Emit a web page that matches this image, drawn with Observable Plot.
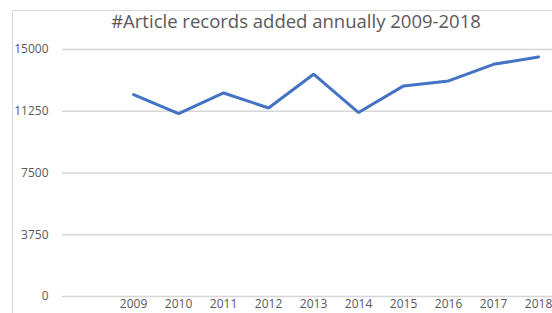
<!DOCTYPE html>
<html>
<head>
<meta charset="utf-8">
<script src="https://cdn.jsdelivr.net/npm/d3@7"></script>
<script src="https://cdn.jsdelivr.net/npm/@observablehq/plot@0.6"></script>
<style>
  html, body { margin: 0; padding: 0; background: #fff; }
  #wrap { position: relative; width: 552px; height: 313px; overflow: hidden; font-family: "Open Sans", sans-serif; }
  #frame { position: absolute; left: 12px; top: 10px; right: -2px; bottom: -2px; border-left: 1px solid #d9d9d9; border-top: 1px solid #d9d9d9; }
  #title { position: absolute; left: 0; width: 592px; top: 8px; text-align: center; font-size: 18.5px; color: #595959; white-space: nowrap; }
  #chart { position: absolute; left: 0; top: 0; }
</style>
</head>
<body>
<div id="wrap">
  <div id="frame"></div>
  <div id="chart"></div>
  <div id="title">#Article records added annually 2009-2018</div>
</div>
<script>
const years = [2009, 2010, 2011, 2012, 2013, 2014, 2015, 2016, 2017, 2018];
const records = [12260, 11100, 12360, 11450, 13500, 11170, 12790, 13090, 14100, 14550];
const yTicks = [0, 3750, 7500, 11250, 15000];

const data = years.map((year, i) => ({year, value: records[i]}));

const chart = Plot.plot({
  width: 552,
  height: 313,
  marginLeft: 62,
  marginRight: 0,
  marginTop: 49,
  marginBottom: 17,
  style: {fontFamily: "'Open Sans', sans-serif", fontSize: "12px", color: "#595959", background: "transparent"},
  x: {domain: [2007.42, 2018.31], ticks: years, tickFormat: "d", tickSize: 0, tickPadding: 3, label: null},
  y: {domain: [0, 15000], ticks: yTicks, tickSize: 0, tickPadding: 14, label: null, tickFormat: d => String(d)},
  marks: [
    Plot.ruleY(yTicks, {stroke: "#d6d6d6", strokeWidth: 1.5}),
    Plot.line(data, {x: "year", y: "value", stroke: "#4472C4", strokeWidth: 3, strokeLinejoin: "miter"})
  ]
});
document.getElementById("chart").appendChild(chart);
</script>
</body>
</html>
